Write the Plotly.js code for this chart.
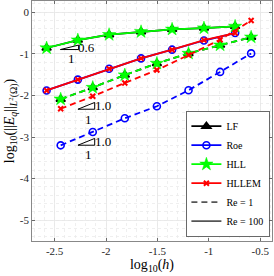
<!DOCTYPE html>
<html>
<head>
<meta charset="utf-8">
<script src="https://cdn.plot.ly/plotly-3.0.1.min.js"></script>
<style>html,body{margin:0;padding:0;background:#fff;}#chart{width:274px;height:276px;}</style>
</head>
<body>
<div id="chart"></div>
<script>
// log10(h) for the two Reynolds numbers
const hRe100 = [-2.578, -2.274, -1.970, -1.659, -1.357, -1.047, -0.744];
const hRe1   = [-2.441, -2.129, -1.817, -1.505, -1.197, -0.890, -0.588];

// log10 error, Re = 100 (solid)
const lf100    = [-0.86, -0.67, -0.54, -0.47, -0.41, -0.38, -0.34];
const roe100   = [-1.88, -1.62, -1.36, -1.11, -0.90, -0.68, -0.50];
const hll100   = [-0.86, -0.67, -0.54, -0.47, -0.41, -0.38, -0.34];
const hllem100 = [-1.88, -1.62, -1.36, -1.11, -0.90, -0.67, -0.50];

// log10 error, Re = 1 (dashed)
const lf1    = [-2.09, -1.81, -1.51, -1.23, -0.99, -0.79, -0.60];
const roe1   = [-3.20, -2.88, -2.55, -2.26, -1.875, -1.435, -0.99];
const hll1   = [-2.09, -1.81, -1.51, -1.23, -0.99, -0.79, -0.60];
const hllem1 = [-2.32, -2.02, -1.70, -1.39, -1.03, -0.66, -0.20];

const xTicks = [-2.5, -2, -1.5, -1, -0.5];
const xTickText = ['-2.5', '-2', '-1.5', '-1', '-0.5'];
const yTicks = [0, -1, -2, -3, -4, -5];
const yTickText = ['0', '-1', '-2', '-3', '-4', '-5'];

// slope triangle annotations: [x0, x1, yBottom, yTop, slopeLabel, labelX, labelY, oneX, oneY]
const slopeTri = [
  [-2.444, -2.266, -0.897, -0.79, '0.6', -2.19, -0.85, -2.334, -1.11],
  [-2.273, -2.110, -2.332, -2.169, '1.0', -2.03, -2.24, -2.175, -2.58],
  [-2.273, -2.110, -3.197, -3.034, '1.0', -2.03, -3.10, -2.175, -3.42]
];

const serif = 'Liberation Serif, DejaVu Serif, serif';
const dashPat = '6px,4px';

function mk(name, x, y, color, symbol, size, dash, showlegend, mlw, mfill) {
  return {
    type: 'scatter', mode: 'lines+markers', name: name, x: x, y: y,
    showlegend: showlegend, legendgroup: name,
    line: {color: color, width: 1.8, dash: dash},
    marker: {symbol: symbol, size: size, color: mfill, line: {color: color, width: mlw}}
  };
}

const traces = [
  mk('LF', hRe100, lf100, '#000000', 'triangle-up', 8, 'solid', true, 1.5, '#000000'),
  mk('LF', hRe1, lf1, '#000000', 'triangle-up', 8, dashPat, false, 1.5, '#000000'),
  mk('Roe', hRe100, roe100, '#0000ff', 'circle-open', 7, 'solid', true, 1.6, '#0000ff'),
  mk('Roe', hRe1, roe1, '#0000ff', 'circle-open', 7, dashPat, false, 1.6, '#0000ff'),
  mk('HLL', hRe100, hll100, '#00ff00', 'star', 10, 'solid', true, 0.5, '#00ff00'),
  mk('HLL', hRe1, hll1, '#00ff00', 'star', 10, dashPat, false, 0.5, '#00ff00'),
  mk('HLLEM', hRe100, hllem100, '#ff0000', 'x-thin', 5, 'solid', true, 2, '#ff0000'),
  mk('HLLEM', hRe1, hllem1, '#ff0000', 'x-thin', 5, dashPat, false, 2, '#ff0000'),
  {type: 'scatter', mode: 'lines', name: 'Re = 1', x: [null], y: [null],
   line: {color: '#555555', width: 1.8, dash: dashPat}},
  {type: 'scatter', mode: 'lines', name: 'Re = 100', x: [null], y: [null],
   line: {color: '#555555', width: 1.8}}
];

const shapes = [];
const annotations = [];
slopeTri.forEach(t => {
  shapes.push({type: 'path', xref: 'x', yref: 'y',
    path: `M ${t[0]},${t[2]} L ${t[1]},${t[2]} L ${t[1]},${t[3]} Z`,
    line: {color: '#000', width: 1}, fillcolor: 'rgba(0,0,0,0)'});
  annotations.push({x: t[5], y: t[6], xref: 'x', yref: 'y', text: t[4], showarrow: false,
    font: {family: serif, size: 13, color: '#000'}});
  annotations.push({x: t[7], y: t[8], xref: 'x', yref: 'y', text: '1', showarrow: false,
    font: {family: serif, size: 13, color: '#000'}});
});

const axisCommon = {
  showline: true, mirror: 'ticks', linecolor: '#6a6a6a', linewidth: 0.8,
  ticks: 'inside', ticklen: 3, tickcolor: '#6a6a6a',
  showgrid: true, gridcolor: '#e6e6e6', gridwidth: 0.8, zeroline: false,
  tickfont: {family: serif, size: 11, color: '#262626'}
};

const layout = {
  width: 274, height: 276,
  margin: {l: 32, r: 2, t: 1, b: 35},
  paper_bgcolor: '#ffffff', plot_bgcolor: '#ffffff',
  font: {family: serif, color: '#000'},
  xaxis: Object.assign({}, axisCommon, {
    range: [-2.72, -0.385], tickmode: 'array', tickvals: xTicks, ticktext: xTickText,
    minor: {dtick: 0.1, showgrid: true, griddash: 'dot', gridcolor: '#ebebeb', gridwidth: 0.8, ticks: ''},
    title: {text: 'log<sub>10</sub>(<i>h</i>)', font: {family: serif, size: 14, color: '#000'}, standoff: 3}
  }),
  yaxis: Object.assign({}, axisCommon, {
    range: [-5.5, 0.27], tickmode: 'array', tickvals: yTicks, ticktext: yTickText,
    minor: {dtick: 0.2, showgrid: true, griddash: 'dot', gridcolor: '#ebebeb', gridwidth: 0.8, ticks: ''},
    title: {text: 'log<sub>10</sub>(||<i>E<sub>q</sub></i>||<sub><i>L</i><sup>2</sup>(Ω)</sub>)', font: {family: serif, size: 14, color: '#000'}, standoff: 1}
  }),
  legend: {
    x: 0.99, y: 0.017, xanchor: 'right', yanchor: 'bottom',
    bgcolor: '#ffffff', bordercolor: '#444444', borderwidth: 0.8,
    font: {family: serif, size: 10, color: '#000'},
    tracegroupgap: 0, itemwidth: 30
  },
  shapes: shapes,
  annotations: annotations
};

Plotly.newPlot('chart', traces, layout, {displayModeBar: false, staticPlot: true});
</script>
</body>
</html>
